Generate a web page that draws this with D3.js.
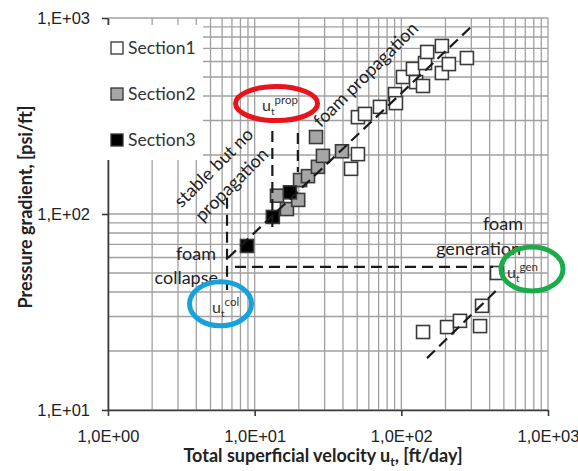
<!DOCTYPE html>
<html>
<head>
<meta charset="utf-8">
<script src="https://cdn.jsdelivr.net/npm/d3@7"></script>
<style>
  body { margin: 0; background: #fff; }
  svg { font-family: Lato, "Open Sans", sans-serif; }
</style>
</head>
<body>
<svg id="chart" width="578" height="471"></svg>
<script>
// velocity u_t [ft/day], pressure gradient [psi/ft]
const section1 = [
  [50.6, 312], [56.5, 324], [71.5, 352], [90.5, 409], [91.9, 368],
  [102.6, 500], [120, 550], [126, 471], [140.5, 450], [145, 589],
  [150, 671], [189, 720], [189, 524], [211, 582], [280, 625],
  [50.6, 202], [45.4, 170],
  [140.6, 25.0], [205, 26.5], [251, 28.5], [344, 26.8], [355, 34.0], [449, 50.0]
];
const section2 = [
  [14.2, 124], [16.6, 106], [19.8, 118], [20.4, 149], [23.1, 156],
  [27, 174], [29.2, 198], [26.2, 247], [39.4, 209]
];
const section3 = [[8.87, 68.7], [13.3, 96.6], [17.4, 129]];

const seriesNames = ["Section1", "Section2", "Section3"];
const seriesFill = ["#ffffff", "#a6a6a6", "#000000"];

// dashed guide lines, data coordinates
const propagationLine = [[6.58, 59.7], [308, 920]];
const generationLine = [[149.6, 18.4], [471, 42.5]];
const collapseLine = [[6.48, 121], [6.48, 40.9]];
const thresholdLine = [[7.34, 53.7], [422, 53.7]];
const propLines = [[[13.2, 265], [13.2, 80.9]], [[19.7, 259], [19.7, 164]]];

const xTickValues = [1, 10, 100, 1000];
const xTickLabels = ["1,0E+00", "1,0E+01", "1,0E+02", "1,0E+03"];
const yTickValues = [10, 100, 1000];
const yTickLabels = ["1,E+01", "1,E+02", "1,E+03"];

const svg = d3.select("#chart");
const x = d3.scaleLog().domain([1, 1000]).range([108, 548]);
const y = d3.scaleLog().domain([10, 1000]).range([410, 18]);

// grid, all decades and sub-decades
const grid = svg.append("g").attr("stroke", "#a0a0a0").attr("stroke-width", 1.3);
grid.selectAll(".gx").data(x.ticks()).enter().append("line")
  .attr("x1", d => x(d)).attr("x2", d => x(d))
  .attr("y1", y(10)).attr("y2", y(1000));
grid.selectAll(".gy").data(y.ticks()).enter().append("line")
  .attr("y1", d => y(d)).attr("y2", d => y(d))
  .attr("x1", x(1)).attr("x2", x(1000));

// axes
const xAxis = svg.append("g").attr("transform", `translate(0,${y(10)})`)
  .call(d3.axisBottom(x).tickValues(xTickValues).tickSizeInner(6).tickSizeOuter(0)
    .tickFormat((d, i) => xTickLabels[i]));
xAxis.selectAll("text").attr("y", 20).attr("font-size", 16.5).attr("fill", "#222");

const yAxis = svg.append("g").attr("transform", `translate(${x(1)},0)`)
  .call(d3.axisLeft(y).tickValues(yTickValues).tickSizeInner(6).tickSizeOuter(0)
    .tickFormat((d, i) => yTickLabels[i]));
yAxis.selectAll("text").attr("x", -18).attr("font-size", 16.5).attr("fill", "#222");
svg.selectAll(".domain, .tick line").attr("stroke", "#3a3a3a").attr("stroke-width", 1.6);

// axis titles
const xTitle = svg.append("text").attr("x", 323).attr("y", 462)
  .attr("text-anchor", "middle").attr("font-weight", "bold").attr("font-size", 18).attr("fill", "#222");
xTitle.append("tspan").text("Total superficial velocity u");
xTitle.append("tspan").attr("font-size", 12).attr("dy", 4).text("t");
xTitle.append("tspan").attr("dy", -4).text(", [ft/day]");

svg.append("text").attr("transform", "translate(32,207) rotate(-90)")
  .attr("text-anchor", "middle").attr("font-weight", "bold").attr("font-size", 18).attr("fill", "#222")
  .text("Pressure gradient, [psi/ft]");

// legend box sits over the grid
svg.append("rect").attr("x", 97).attr("y", 25).attr("width", 106).attr("height", 135).attr("fill", "#fff");
const legend = svg.append("g");
seriesNames.forEach((name, i) => {
  const ly = 48 + i * 46;
  legend.append("rect").attr("x", 111).attr("y", ly - 6).attr("width", 12).attr("height", 12)
    .attr("fill", seriesFill[i]).attr("stroke", "#333").attr("stroke-width", 1.3);
  legend.append("text").attr("x", 128).attr("y", ly + 6).attr("font-size", 17.5).attr("fill", "#333").text(name);
});

// markers
const sq = 13;
[section1, section2, section3].forEach((pts, i) => {
  svg.append("g").selectAll("rect").data(pts).enter().append("rect")
    .attr("x", d => x(d[0]) - sq / 2).attr("y", d => y(d[1]) - sq / 2)
    .attr("width", sq).attr("height", sq)
    .attr("fill", seriesFill[i]).attr("stroke", "#3a3a3a").attr("stroke-width", 1.6);
});

// dashed lines on top
const line = d3.line().x(d => x(d[0])).y(d => y(d[1]));
[propagationLine, generationLine, collapseLine, thresholdLine, ...propLines].forEach(l => {
  svg.append("path").attr("d", line(l)).attr("fill", "none")
    .attr("stroke", "#1a1a1a").attr("stroke-width", 2.2).attr("stroke-dasharray", "11,6");
});

// text annotations
function label(txt, px, py, anchor, rot) {
  svg.append("text").attr("transform", `translate(${px},${py}) rotate(${rot || 0})`)
    .attr("text-anchor", anchor).attr("font-size", 18).attr("fill", "#222").text(txt);
}
label("stable but no", 218, 172, "middle", -45);
label("propagation", 236, 189, "middle", -45);
label("foam propagation", 370, 79, "middle", -45);
label("foam", 216, 260, "end");
label("collapse", 218, 284, "end");
label("foam", 523, 230, "end");
label("generation", 521, 255, "end");

// velocity markers with ellipses
function ut(sup, px, py) {
  const t = svg.append("text").attr("x", px).attr("y", py).attr("font-size", 16).attr("fill", "#333");
  t.append("tspan").text("u");
  t.append("tspan").attr("font-size", 10).attr("dy", 4).text("t");
  t.append("tspan").attr("font-size", 11.5).attr("dy", -11).text(sup);
}
ut("prop", 262, 111);
ut("col", 212, 313);
ut("gen", 507, 278);

const ellipses = [
  { c: [14.1, 366], rx: 41, ry: 17, col: "#e8131b" },
  { c: [5.85, 34.8], rx: 31, ry: 22, col: "#17a2dc" },
  { c: [778, 52.4], rx: 31, ry: 22, col: "#1aab4b" }
];
svg.append("g").selectAll("ellipse").data(ellipses).enter().append("ellipse")
  .attr("cx", d => x(d.c[0])).attr("cy", d => y(d.c[1]))
  .attr("rx", d => d.rx).attr("ry", d => d.ry)
  .attr("fill", "none").attr("stroke", d => d.col).attr("stroke-width", 5);
</script>
</body>
</html>
